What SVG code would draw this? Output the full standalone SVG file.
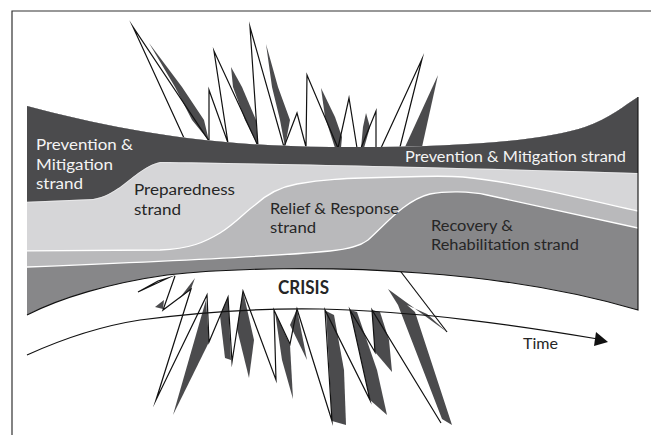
<svg xmlns="http://www.w3.org/2000/svg" width="651" height="435" viewBox="0 0 651 435">
<style>
.dk{fill:#4b4b4d;stroke:none}
.ol{fill:none;stroke:#111;stroke-width:1.2;stroke-linejoin:miter;stroke-miterlimit:20}
.wl{fill:none;stroke:#fff;stroke-width:1.3}
.tw{font-family:Lato,"Open Sans",sans-serif;font-size:15.6px;fill:#f4f4f4}
.td{font-family:Lato,"Open Sans",sans-serif;font-size:15.6px;fill:#262626}
.tb{font-family:Lato,"Open Sans",sans-serif;font-size:18.5px;font-weight:700;fill:#262626}
</style>
<defs>
<clipPath id="bandClip"><path d="M27,106 C110,128 200,146 330,147 C450,148 540,142 585,127 C610,118 625,105 638,97 L638,310 C590,296 520,280 420,273 C330,266 230,268 167,275 C110,283 60,298 27,315 Z"/></clipPath>
</defs>
<rect width="651" height="435" fill="#fff"/>
<g id="frame"><path d="M12,435 V11 H651" fill="none" stroke="#333" stroke-width="1.2"/></g>

<g id="top-spikes">
<polygon class="dk" points="149,43 182,87 204,120 209,141 192,120 175,87"/>
<polygon class="dk" points="231,67 242,87 256,120 258,146 245,120 233,87"/>
<polygon class="dk" points="266,44 278,87 290,120 285,147 280,120 272,87"/>
<polygon class="dk" points="321,88 335,117 342,137 341,148 335,148 325,117"/>
<polygon class="dk" points="366,113 370,127 364,148 361,148 363,127"/>
<polygon class="dk" points="438,75 422,147 405,147"/>
<polyline class="ol" points="184,138 133,27 209,141 209,90 228,143 214,51 258,146 250,27 284,147 297,113 306,147 307,75 338,148 349,98 357,148"/>
<polyline class="ol" points="361,148 376,111 376,148"/>
<polyline class="ol" points="381,148 422,59 400,147"/>
</g>

<g id="bottom-spikes">
<polygon class="dk" points="155,307 164,300 163,309"/>
<polygon class="dk" points="179,299 195,278 191,289"/>
<polygon class="dk" points="206,300 209,342 173,415"/>
<polygon class="dk" points="228,297 231,360 225,358 220,316"/>
<polygon class="dk" points="243,291 254,340 249,378 237,329"/>
<polygon class="dk" points="275,312 290,345 293,399 282,360"/>
<polygon class="dk" points="297,309 307,360 290,325"/>
<polygon class="dk" points="326,311 334,315 344,370 346,425 332,421"/>
<polygon class="dk" points="350,310 357,312 377,370 387,415 370,400"/>
<polygon class="dk" points="372,310 380,312 389,340 392,372 375,352"/>
<polygon class="dk" points="388,289 447,332 427,314 407,305 415,312 452,425 442,419 398,305"/>
<polygon class="ol" points="138,292 158,281 168,278"/>
<polyline class="ol" points="175,276 163,310 191,289 156,400 207,295 209,342 228,297 232,362 243,291 276,380 274,310 290,344 297,309 332,421 325,310 370,400 350,310 375,352 372,310 441,423"/>
<polyline class="ol" points="398,268 447,332"/>
</g>

<g id="band">
<g clip-path="url(#bandClip)">
<g id="recovery-strand"><rect x="20" y="60" width="625" height="270" fill="#878789"/></g>
<g id="relief-strand"><path fill="#b9b9bb" d="M20,60 H645 V228 L638,228 L487,195 C470,191 445,191 430,194 C405,200 385,225 368,240 C360,246 350,249 330,251 C280,256 150,262 27,267 L20,267 Z"/></g>
<g id="preparedness-strand"><path fill="#d6d6d8" d="M20,60 H645 V211 L638,211 C580,198 520,183 463,177 C450,176 430,176 400,177 C340,178 320,180 297,184 C280,187 268,193 255,205 C245,212 235,224 220,233 C205,242 190,249 160,250 L20,251 Z"/></g>
<g id="prevention-strand"><path fill="#4b4b4d" d="M20,60 H645 V173 L638,173 C450,167 250,163 160,162 C145,165 130,180 120,187 C112,192 105,197 93,199 L20,202 Z"/></g>
<path class="wl" d="M638,211 C580,198 520,183 463,177 C450,176 430,176 400,177 C340,178 320,180 297,184 C280,187 268,193 255,205 C245,212 235,224 220,233 C205,242 190,249 160,250 L20,251"/>
<path class="wl" d="M638,228 L487,195 C470,191 445,191 430,194 C405,200 385,225 368,240 C360,246 350,249 330,251 C280,256 150,262 27,267 L20,267"/>
<path fill="none" stroke="#fff" stroke-width="0.7" stroke-opacity="0.6" d="M638,173.6 C450,167.6 250,163.6 160,162.6 C145,165.6 130,180.6 120,187.6 C112,192.6 105,197.6 93,199.6 L20,202.6"/>
</g>
<path d="M638,97 L638,310 C590,296 520,280 420,273 C330,266 230,268 167,275 C110,283 60,298 27,315" fill="none" stroke="#111" stroke-width="1.1"/>
</g>

<g id="labels">
<text class="tw" x="36" y="150" textLength="97" lengthAdjust="spacingAndGlyphs">Prevention &amp;</text>
<text class="tw" x="36" y="170" textLength="77" lengthAdjust="spacingAndGlyphs">Mitigation</text>
<text class="tw" x="36" y="189" textLength="47" lengthAdjust="spacingAndGlyphs">strand</text>
<text class="tw" x="405" y="162" textLength="221" lengthAdjust="spacingAndGlyphs">Prevention &amp; Mitigation strand</text>
<text class="td" x="134" y="195" textLength="101" lengthAdjust="spacingAndGlyphs">Preparedness</text>
<text class="td" x="134" y="215" textLength="47" lengthAdjust="spacingAndGlyphs">strand</text>
<text class="td" x="270" y="213.5" textLength="129" lengthAdjust="spacingAndGlyphs">Relief &amp; Response</text>
<text class="td" x="270" y="233" textLength="46" lengthAdjust="spacingAndGlyphs">strand</text>
<text class="td" x="431" y="230.5" textLength="82" lengthAdjust="spacingAndGlyphs">Recovery &amp;</text>
<text class="td" x="431" y="250" textLength="148" lengthAdjust="spacingAndGlyphs">Rehabilitation strand</text>
<text class="tb" x="278" y="294" textLength="51" lengthAdjust="spacingAndGlyphs">CRISIS</text>
<text class="td" x="523" y="349" textLength="35" lengthAdjust="spacingAndGlyphs">Time</text>
</g>

<g id="connectors">
<path d="M27,355 C60,340 95,327 140,320 C200,312 260,308 320,309 C420,311 520,326 598,339" fill="none" stroke="#111" stroke-width="1.2"/>
<polygon points="608,342 596,332 594,346" fill="#111"/>
</g>
</svg>
